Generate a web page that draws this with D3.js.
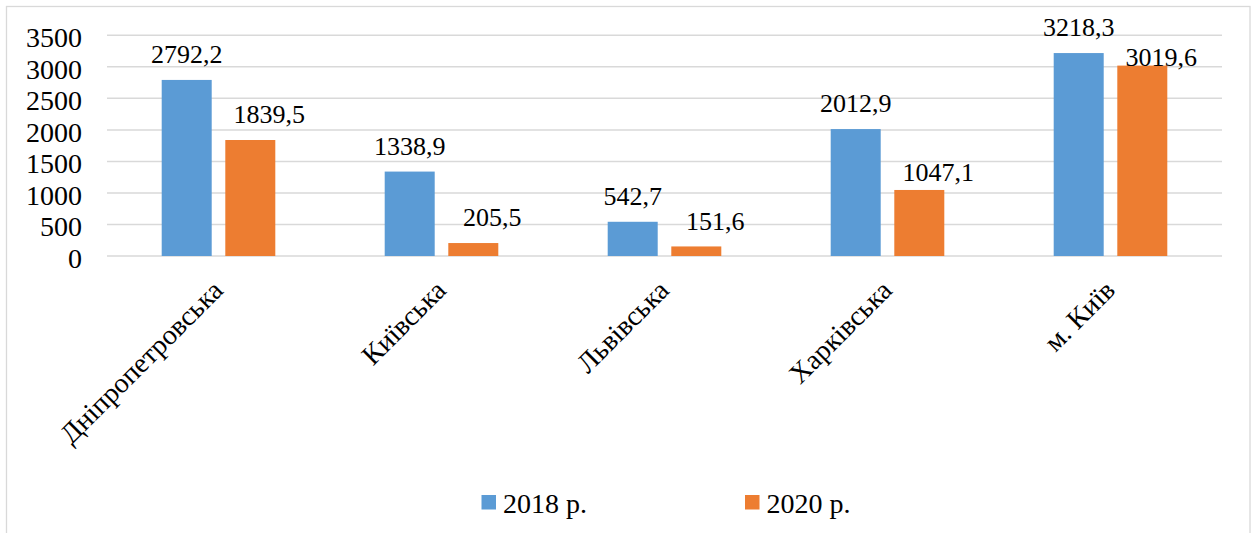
<!DOCTYPE html>
<html>
<head>
<meta charset="utf-8">
<script src="https://cdn.jsdelivr.net/npm/d3@7"></script>
</head>
<body style="margin:0">
<svg id="regions-bars" width="1251" height="533"></svg>
<script>
// Regions and values (2018 vs 2020)
const regions = ["Дніпропетровська", "Київська", "Львівська", "Харківська", "м. Київ"];
const seriesNames = ["2018 р.", "2020 р."];
const values2018 = [2792.2, 1338.9, 542.7, 2012.9, 3218.3];
const values2020 = [1839.5, 205.5, 151.6, 1047.1, 3019.6];
const yTicks = [0, 500, 1000, 1500, 2000, 2500, 3000, 3500];
const colors = ["#5b9bd5", "#ed7d31"];

const series = [values2018, values2020];
const FONT = '"Liberation Serif"';

// serif face for every text element
function serif(sel, size) {
  return sel.style("font-family", FONT, "important")
    .attr("font-size", size).attr("fill", "#000");
}

const svg = d3.select("#regions-bars");
const plot = { left: 107, right: 1222, top: 35.3, bottom: 256 };

// chart frame
svg.append("rect")
  .attr("x", 6.5).attr("y", 6.5)
  .attr("width", 1243.5).attr("height", 620)
  .attr("fill", "#fff").attr("stroke", "#d9d9d9").attr("stroke-width", 1.3);

const x0 = d3.scaleBand().domain(regions).range([plot.left, plot.right]).paddingInner(0).paddingOuter(0);
const barW = 50, barGap = 13.6;
const x1 = d3.scaleOrdinal().domain([0, 1]).range([-(barGap / 2 + barW), barGap / 2]);
const y = d3.scaleLinear().domain([0, 3500]).range([plot.bottom, plot.top]);

// gridlines
svg.append("g").selectAll("line").data(yTicks).join("line")
  .attr("x1", plot.left).attr("x2", plot.right)
  .attr("y1", d => y(d)).attr("y2", d => y(d))
  .attr("stroke", "#d9d9d9").attr("stroke-width", 1.5);

// y axis labels
const yAxis = d3.axisLeft(y).tickValues(yTicks).tickSize(0).tickPadding(0).tickFormat(d3.format("d"));
const ya = svg.append("g").attr("transform", "translate(82,0)").call(yAxis);
ya.attr("font-family", null).attr("font-size", null);
ya.select(".domain").remove();
serif(ya.selectAll("text"), 28).attr("dy", 11.3);

// bars
const fmt = v => d3.format(".1f")(v).replace(".", ",");
series.forEach((vals, si) => {
  svg.append("g").selectAll("rect").data(vals).join("rect")
    .attr("x", (d, i) => x0(regions[i]) + x0.bandwidth() / 2 + x1(si))
    .attr("y", d => y(d))
    .attr("width", barW)
    .attr("height", d => y(0) - y(d))
    .attr("fill", colors[si]);
});

// value labels; 2020 labels sit slightly right of their bars
const labelDx = [0, 19];
const labelLift = { "1-3": 9, "1-4": 0 };
series.forEach((vals, si) => {
  serif(svg.append("g").selectAll("text").data(vals).join("text"), 26)
    .attr("x", (d, i) => x0(regions[i]) + x0.bandwidth() / 2 + x1(si) + barW / 2 + labelDx[si])
    .attr("y", (d, i) => {
      const k = si + "-" + i;
      const lift = (k in labelLift) ? labelLift[k] : 16.6;
      return y(d) - lift;
    })
    .attr("text-anchor", "middle")
    .text(d => fmt(d));
});

// category labels rotated -45°
serif(svg.append("g").selectAll("text").data(regions).join("text"), 28)
  .attr("transform", d => `translate(${x0(d) + x0.bandwidth() / 2 + 6},292) rotate(-45)`)
  .attr("text-anchor", "end")
  .text(d => d);

// legend
const legendX = [481.5, 745];
const lg = svg.append("g");
seriesNames.forEach((name, i) => {
  lg.append("rect").attr("x", legendX[i]).attr("y", 495).attr("width", 14.5).attr("height", 14.5).attr("fill", colors[i]);
  serif(lg.append("text"), 28).attr("x", legendX[i] + 21.5).attr("y", 513.3).text(name);
});
</script>
</body>
</html>
